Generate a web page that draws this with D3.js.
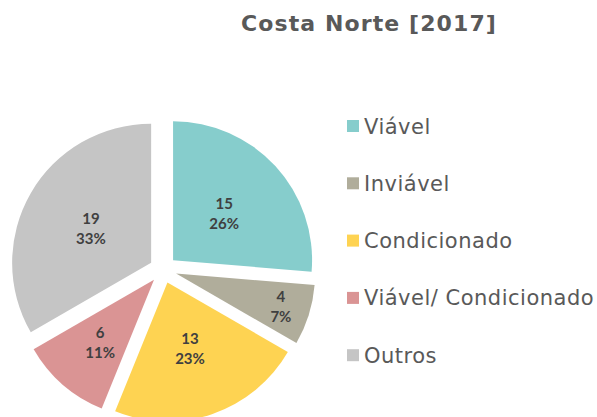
<!DOCTYPE html>
<html>
<head>
<meta charset="utf-8">
<script src="https://d3js.org/d3.v7.min.js"></script>
<style>
  body { margin: 0; background: #fff; }
  text { font-family: "Century Gothic", "DejaVu Sans", sans-serif; }
  .lbl { font-family: "Lato", "DejaVu Sans", sans-serif; }
</style>
</head>
<body>
<div id="chart"></div>
<script>
var categories = ["Viável", "Inviável", "Condicionado", "Viável/ Condicionado", "Outros"];
var values = [15, 4, 13, 6, 19];
var colors = ["#86cdcc", "#b0ad9b", "#fed352", "#da9494", "#c5c5c5"];

var width = 597, height = 417;
var cx = 163, cy = 269.5, r = 139, explode = 13.7;

var svg = d3.select('#chart')
            .append('svg')
            .attr('width', width)
            .attr('height', height);

svg.append('text')
   .attr('x', 369)
   .attr('y', 31)
   .attr('text-anchor', 'middle')
   .attr('font-size', '22px')
   .attr('font-weight', 'bold')
   .attr('letter-spacing', '1.1px')
   .attr('fill', '#595959')
   .text('Costa Norte [2017]');

var total = d3.sum(values);
var pie = d3.pie().sort(null).value(function(d) { return d; });
var arcs = pie(values);
var arc = d3.arc().innerRadius(0).outerRadius(r);

var g = svg.append('g').attr('transform', 'translate(' + cx + ',' + cy + ')');

var slice = g.selectAll('g.slice')
  .data(arcs)
  .enter().append('g')
  .attr('class', 'slice')
  .attr('transform', function(d) {
    var a = (d.startAngle + d.endAngle) / 2;
    return 'translate(' + (Math.sin(a) * explode) + ',' + (-Math.cos(a) * explode) + ')';
  });

slice.append('path')
  .attr('d', arc)
  .attr('fill', function(d, i) { return colors[i]; });

// small slices get their labels pushed outwards
function labelRadius(d) {
  var span = d.endAngle - d.startAngle;
  if (span < 0.5) return r * 0.79;
  if (span < 0.7) return r * 0.59;
  return r * 0.5;
}

var lbl = slice.append('text')
  .attr('class', 'lbl')
  .attr('text-anchor', 'middle')
  .attr('font-size', '15px')
  .attr('font-weight', 'bold')
  .attr('fill', '#404040')
  .attr('transform', function(d) {
    var a = (d.startAngle + d.endAngle) / 2, lr = labelRadius(d);
    return 'translate(' + (Math.sin(a) * lr) + ',' + (-Math.cos(a) * lr) + ')';
  });
lbl.append('tspan').attr('x', 0).attr('y', -4).text(function(d) { return d.value; });
lbl.append('tspan').attr('x', 0).attr('y', 16)
   .text(function(d) { return Math.round(d.value / total * 100) + '%'; });

var legend = svg.selectAll('g.legend')
  .data(categories)
  .enter().append('g')
  .attr('class', 'legend')
  .attr('transform', function(d, i) { return 'translate(347,' + (126 + i * 57.3) + ')'; });

legend.append('rect')
  .attr('x', 0).attr('y', -6)
  .attr('width', 12).attr('height', 12)
  .attr('fill', function(d, i) { return colors[i]; });

legend.append('text')
  .attr('x', 17)
  .attr('y', 7.5)
  .attr('font-size', '21px')
  .attr('letter-spacing', '0.5px')
  .attr('fill', '#595959')
  .text(function(d) { return d; });
</script>
</body>
</html>
